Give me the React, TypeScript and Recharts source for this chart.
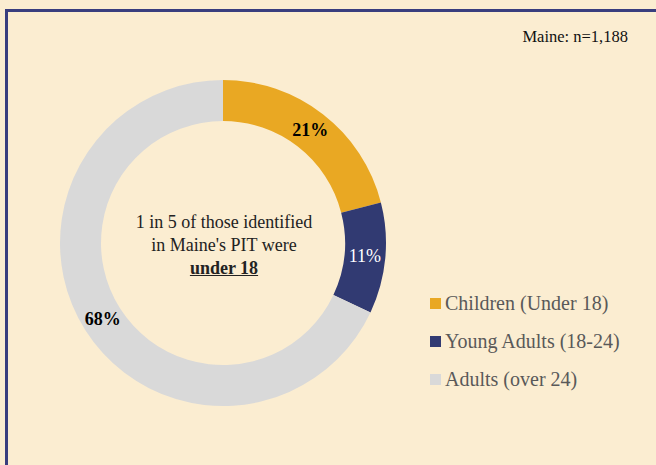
import { PieChart, Pie, Cell } from 'recharts'

const categories = ['Children (Under 18)', 'Young Adults (18-24)', 'Adults (over 24)']
const shares = [21, 11, 68]
const colors = ['#E9A823', '#313A72', '#D9D9D9']
const labelColors = ['#000000', '#FFFFFF', '#000000']
const sampleNote = 'Maine: n=1,188'

const data = categories.map((name, i) => ({ name, value: shares[i], color: colors[i] }))

const FONT = '"Liberation Serif", "DejaVu Serif", serif'
const RAD = Math.PI / 180

const renderLabel = ({ cx, cy, midAngle, innerRadius, outerRadius, value, index }: any) => {
  const r = (innerRadius + outerRadius) / 2
  const x = cx + r * Math.cos(-midAngle * RAD)
  const y = cy + r * Math.sin(-midAngle * RAD)
  return (
    <text
      x={x}
      y={y}
      fill={labelColors[index]}
      textAnchor="middle"
      dominantBaseline="central"
      fontFamily={FONT}
      fontSize={18}
      fontWeight={index === 1 ? 'normal' : 'bold'}
    >
      {value}%
    </text>
  )
}

export default function App() {
  return (
    <div
      style={{
        position: 'fixed',
        left: 0,
        top: 0,
        width: 656,
        height: 465,
        background: '#FBEDD1',
        overflow: 'hidden',
        fontFamily: FONT,
      }}
    >
      <div
        style={{
          position: 'absolute',
          left: 5,
          top: 9,
          width: 700,
          height: 500,
          border: '3px solid #393E7E',
          boxSizing: 'border-box',
        }}
      />
      <div style={{ position: 'absolute', right: 28, top: 27, fontSize: 16.5, color: '#111' }}>{sampleNote}</div>
      <div style={{ position: 'absolute', left: 0, top: 0 }}>
        <PieChart width={656} height={465} margin={{ top: 0, right: 0, bottom: 0, left: 0 }}>
          <Pie
            data={data}
            dataKey="value"
            cx={223}
            cy={243}
            innerRadius={122}
            outerRadius={163}
            startAngle={90}
            endAngle={-270}
            stroke="none"
            label={renderLabel}
            labelLine={false}
            isAnimationActive={false}
          >
            {data.map((d, i) => (
              <Cell key={i} fill={d.color} />
            ))}
          </Pie>
        </PieChart>
      </div>
      <div style={{ position: 'absolute', left: 430, top: 284 }}>
        {data.map((d) => (
          <div key={d.name} style={{ display: 'flex', alignItems: 'center', height: 38 }}>
            <span style={{ width: 11, height: 11, background: d.color, marginRight: 4, display: 'inline-block' }} />
            <span style={{ color: '#595959', fontSize: 20 }}>{d.name}</span>
          </div>
        ))}
      </div>
      <div
        style={{
          position: 'absolute',
          left: 104,
          top: 211,
          width: 240,
          textAlign: 'center',
          fontSize: 18,
          lineHeight: '23px',
          color: '#222',
        }}
      >
        1 in 5 of those identified
        <br />
        in Maine's PIT were
        <br />
        <b style={{ textDecoration: 'underline' }}>under 18</b>
      </div>
    </div>
  )
}
